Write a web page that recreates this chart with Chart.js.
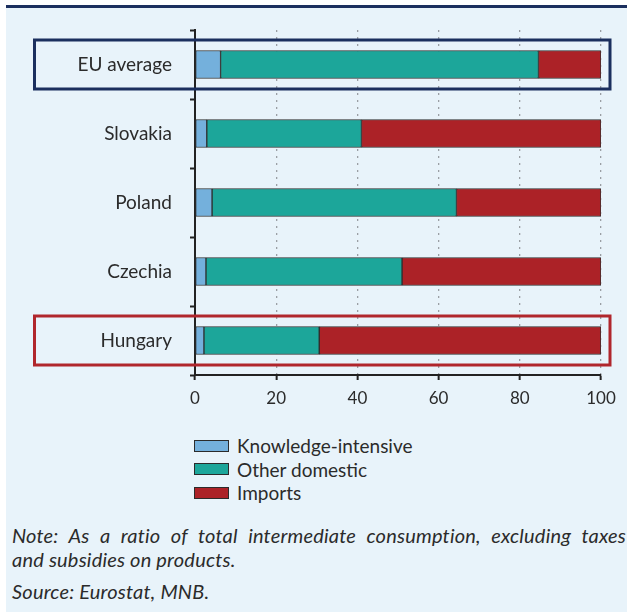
<!DOCTYPE html>
<html>
<head>
<meta charset="utf-8">
<script src="https://cdn.jsdelivr.net/npm/chart.js@4"></script>
<style>
    html, body { margin: 0; padding: 0; background: #fff; }
    #panel {
        position: absolute; left: 6px; top: 5px; width: 621px; height: 607px;
        background: #e8f3fa; border-top: 3px solid #1b2f5e; box-sizing: border-box;
    }
    #wrap { position: absolute; left: 0; top: 0; width: 627px; height: 420px; }
    #legend {
        position: absolute; left: 194px; top: 434px; font-family: Lato, sans-serif;
        font-size: 19px; color: #2b2b2b; line-height: 23.5px;
    }
    #legend .item { display: flex; align-items: center; }
    #legend .box { width: 33px; height: 10px; border: 1px solid #2b2b2b; margin-right: 8px; }
    #note {
        position: absolute; left: 12px; top: 523px; width: 614px; font-family: Lato, sans-serif;
        font-style: italic; font-size: 20px; letter-spacing: 0.2px; color: #2b2b2b; line-height: 24px;
    }
    #note p { margin: 0; }
    #note .j { text-align: justify; text-align-last: justify; }
    #note .src { margin-top: 8px; }
</style>
</head>
<body>
<div id="panel"></div>
<div id="wrap"><canvas id="chart" width="627" height="420"></canvas></div>
<div id="legend"></div>
<div id="note">
    <p class="j">Note: As a ratio of total intermediate consumption, excluding taxes</p>
    <p>and subsidies on products.</p>
    <p class="src">Source: Eurostat, MNB.</p>
</div>
<script>
const countries = ['EU average', 'Slovakia', 'Poland', 'Czechia', 'Hungary'];
const knowledge = [6.3, 2.9, 4.2, 2.7, 2.2];
const otherDomestic = [78.3, 38.1, 60.2, 48.3, 28.4];
const imports = [15.4, 59.0, 35.6, 49.0, 69.4];
const xTicks = [0, 20, 40, 60, 80, 100];

const seriesNames = ['Knowledge-intensive', 'Other domestic', 'Imports'];
const seriesColors = ['#74b0dc', '#1ca69a', '#ac2227'];

// boxes drawn around highlighted rows
const highlights = [
    { label: 'EU average', color: '#1b2f5e' },
    { label: 'Hungary', color: '#b0262c' }
];

const highlightBoxes = {
    id: 'highlightBoxes',
    afterDatasetsDraw(chart) {
        const ctx = chart.ctx;
        const y = chart.scales.y;
        const x = chart.scales.x;
        ctx.save();
        ctx.lineWidth = 3;
        highlights.forEach(h => {
            const cy = y.getPixelForValue(countries.indexOf(h.label));
            ctx.strokeStyle = h.color;
            ctx.strokeRect(34.5, cy - 24.5, x.getPixelForValue(100) + 9 - 34.5, 49);
        });
        ctx.restore();
    }
};

const datasets = [knowledge, otherDomestic, imports].map((d, i) => ({
    label: seriesNames[i],
    data: d,
    backgroundColor: seriesColors[i],
    borderColor: '#2f2f2f',
    borderWidth: 1,
    borderSkipped: false,
    barThickness: 28
}));

new Chart(document.getElementById('chart'), {
    type: 'bar',
    data: { labels: countries, datasets },
    options: {
        indexAxis: 'y',
        responsive: false,
        animation: false,
        layout: { padding: { top: 30, right: 26, left: 0, bottom: 0 } },
        plugins: { legend: { display: false }, tooltip: { enabled: false } },
        scales: {
            x: {
                stacked: true,
                min: 0,
                max: 100,
                afterBuildTicks: s => { s.ticks = xTicks.map(v => ({ value: v })); },
                afterFit: s => { s.height = 45; },
                grid: {
                    color: c => c.tick && c.tick.value === 0 ? 'rgba(0,0,0,0)' : '#9a9fa4',
                    lineWidth: 1.3,
                    tickColor: '#222',
                    tickWidth: 2,
                    tickLength: 5
                },
                border: { display: true, color: '#222', width: 2, dash: [2, 5] },
                ticks: {
                    color: '#2b2b2b',
                    padding: 8,
                    font: { family: 'Lato', size: 17 }
                }
            },
            y: {
                stacked: true,
                afterFit: s => { s.width = 195; },
                grid: {
                    offset: true,
                    drawOnChartArea: false,
                    tickColor: '#222',
                    tickWidth: 2,
                    tickLength: 5
                },
                border: { display: true, color: '#222', width: 2 },
                ticks: {
                    color: '#2b2b2b',
                    padding: 18,
                    font: { family: 'Lato', size: 19 }
                }
            }
        }
    },
    plugins: [highlightBoxes]
});

const legend = document.getElementById('legend');
seriesNames.forEach((name, i) => {
    const item = document.createElement('div');
    item.className = 'item';
    const box = document.createElement('span');
    box.className = 'box';
    box.style.background = seriesColors[i];
    const txt = document.createElement('span');
    txt.textContent = name;
    item.appendChild(box);
    item.appendChild(txt);
    legend.appendChild(item);
});
</script>
</body>
</html>
